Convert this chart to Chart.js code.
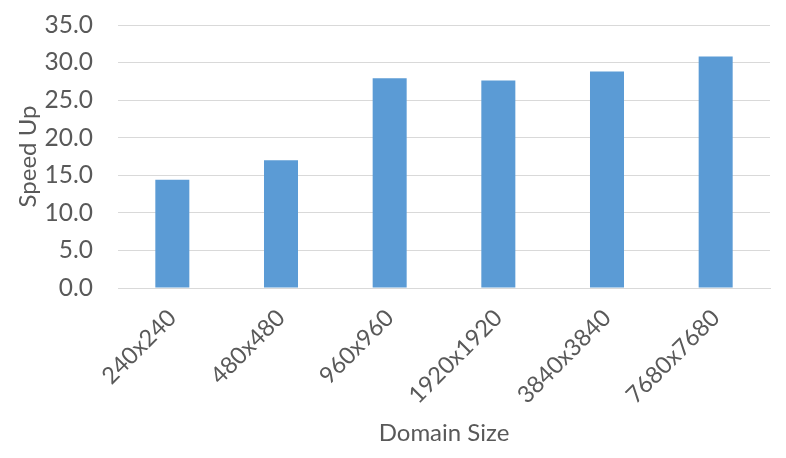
<!DOCTYPE html>
<html>
<head>
<meta charset="utf-8">
<script src="https://cdn.jsdelivr.net/npm/chart.js@4"></script>
<style>
html,body{margin:0;padding:0;background:#fff;}
#wrap{width:786px;height:458px;position:relative;}
</style>
</head>
<body>
<div id="wrap"><canvas id="c" width="786" height="458"></canvas></div>
<script>
const categories = ["240x240","480x480","960x960","1920x1920","3840x3840","7680x7680"];
const speedUp = [14.4, 17.0, 27.9, 27.6, 28.8, 30.8];
const yTicks = [0,5,10,15,20,25,30,35];

const FONT = "Lato, 'Open Sans', sans-serif";
const TXT = "#595959";

new Chart(document.getElementById('c'), {
  type: 'bar',
  data: {
    labels: categories,
    datasets: [{
      label: 'Speed Up',
      data: speedUp,
      backgroundColor: '#5B9BD5',
      borderWidth: 0,
      categoryPercentage: 1.0,
      barPercentage: 0.313
    }]
  },
  options: {
    responsive: false,
    animation: false,
    devicePixelRatio: 1,
    layout: { padding: { left: 0, right: 16, top: 25, bottom: 0 } },
    plugins: { legend: { display: false }, tooltip: { enabled: false } },
    scales: {
      x: {
        grid: { display: false, drawTicks: false },
        border: { display: true, color: '#d9d9d9', width: 1 },
        ticks: {
          color: TXT, font: { family: FONT, size: 23.5 },
          minRotation: 45, maxRotation: 45, padding: 16, autoSkip: false
        },
        title: {
          display: true, text: 'Domain Size', color: TXT,
          font: { family: FONT, size: 24 }, padding: { top: 0, bottom: 10 }
        },
        afterFit: s => { s.height = 170; s.paddingLeft = 0; s.paddingRight = 0; }
      },
      y: {
        min: 0, max: 35,
        afterBuildTicks: s => { s.ticks = yTicks.map(v => ({ value: v })); },
        grid: { color: '#d9d9d9', drawTicks: false },
        border: { display: false },
        ticks: {
          color: TXT, font: { family: FONT, size: 24.5 }, padding: 25,
          callback: v => Number(v).toFixed(1)
        },
        title: {
          display: true, text: 'Speed Up', color: TXT,
          font: { family: FONT, size: 24 }, padding: { top: 14, bottom: 0 }
        },
        afterFit: s => { s.width = 118; s.paddingTop = 0; s.paddingBottom = 0; }
      }
    }
  }
});
</script>
</body>
</html>
